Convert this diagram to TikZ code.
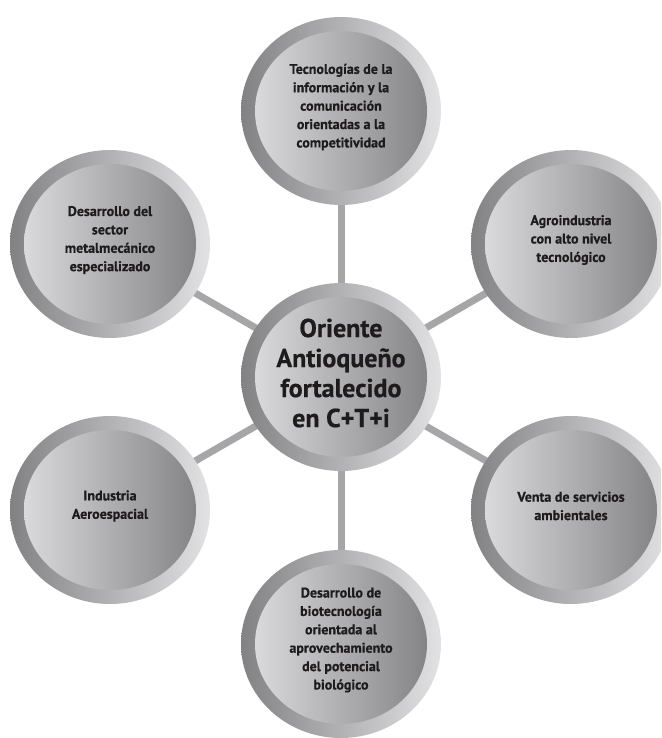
\documentclass[tikz,border=0pt]{standalone}
\usepackage{fontspec}
\setmainfont{PT Sans}[BoldFeatures={FakeBold=0.6}]
\usetikzlibrary{shapes.geometric}
\definecolor{ringdark}{RGB}{130,130,133}
\definecolor{ringlight}{RGB}{226,226,228}
\definecolor{disclight}{RGB}{218,218,220}
\definecolor{discdark}{RGB}{132,132,135}
\definecolor{linkgray}{RGB}{166,166,169}
\definecolor{txt}{RGB}{30,27,28}
\pgfdeclarelayer{bg}
\pgfsetlayers{bg,main}
\begin{document}
\begin{tikzpicture}[x=1pt,y=-1pt,
  ring/.style={ellipse, minimum width=200pt, minimum height=188pt, inner sep=0pt, left color=ringdark, right color=ringlight},
  disc/.style={ellipse, minimum width=172pt, minimum height=160pt, inner sep=0pt, left color=disclight, right color=discdark},
  lab/.style={align=center, text=txt, inner sep=0pt, font=\bfseries\fontsize{14}{18.4}\selectfont},
  hublab/.style={align=center, text=txt, inner sep=0pt, font=\bfseries\fontsize{26}{30}\selectfont},
  link/.style={draw=linkgray, line width=7pt}]
\useasboundingbox (0,0) rectangle (661,738);
\clip (0,0) rectangle (661,738);

% outer rings
\node[ring] (cR)  at (341,377) {};
\node[ring] (tR)  at (341,111) {};
\node[ring] (bR)  at (341,644) {};
\node[ring] (ulR) at (110,244) {};
\node[ring] (urR) at (571,244) {};
\node[ring] (llR) at (110,510) {};
\node[ring] (lrR) at (571,510) {};

% inner discs
\node[disc] (cD)  at (cR)  {};
\node[disc] (tD)  at (tR)  {};
\node[disc] (bD)  at (bR)  {};
\node[disc] (ulD) at (ulR) {};
\node[disc] (urD) at (urR) {};
\node[disc] (llD) at (llR) {};
\node[disc] (lrD) at (lrR) {};

% labels
\node[hublab] (cT) at ([yshift=4pt]cR.center) {Oriente\\Antioqueño\\fortalecido\\en C+T+i};
\node[lab] (tT) at ([yshift=4pt]tR.center) {Tecnologías de la\\información y la\\comunicación\\orientadas a la\\competitividad};
\node[lab] (bT) at ([yshift=4pt]bR.center) {Desarrollo de\\biotecnología\\orientada al\\aprovechamiento\\del potencial\\biológico};
\node[lab] (ulT) at ([yshift=4pt]ulR.center) {Desarrollo del\\sector\\metalmecánico\\especializado};
\node[lab] (urT) at ([yshift=4pt]urR.center) {Agroindustria\\con alto nivel\\tecnológico};
\node[lab] (llT) at ([yshift=4pt]llR.center) {Industria\\Aeroespacial};
\node[lab] (lrT) at ([yshift=4pt]lrR.center) {Venta de servicios\\ambientales};

% connectors
\begin{pgfonlayer}{bg}
\draw[link] (cR.center) -- (tR.center);
\draw[link] (cR.center) -- (bR.center);
\draw[link] (cR.center) -- (ulR.center);
\draw[link] (cR.center) -- (urR.center);
\draw[link] (cR.center) -- (llR.center);
\draw[link] (cR.center) -- (lrR.center);
\end{pgfonlayer}
\end{tikzpicture}
\end{document}
